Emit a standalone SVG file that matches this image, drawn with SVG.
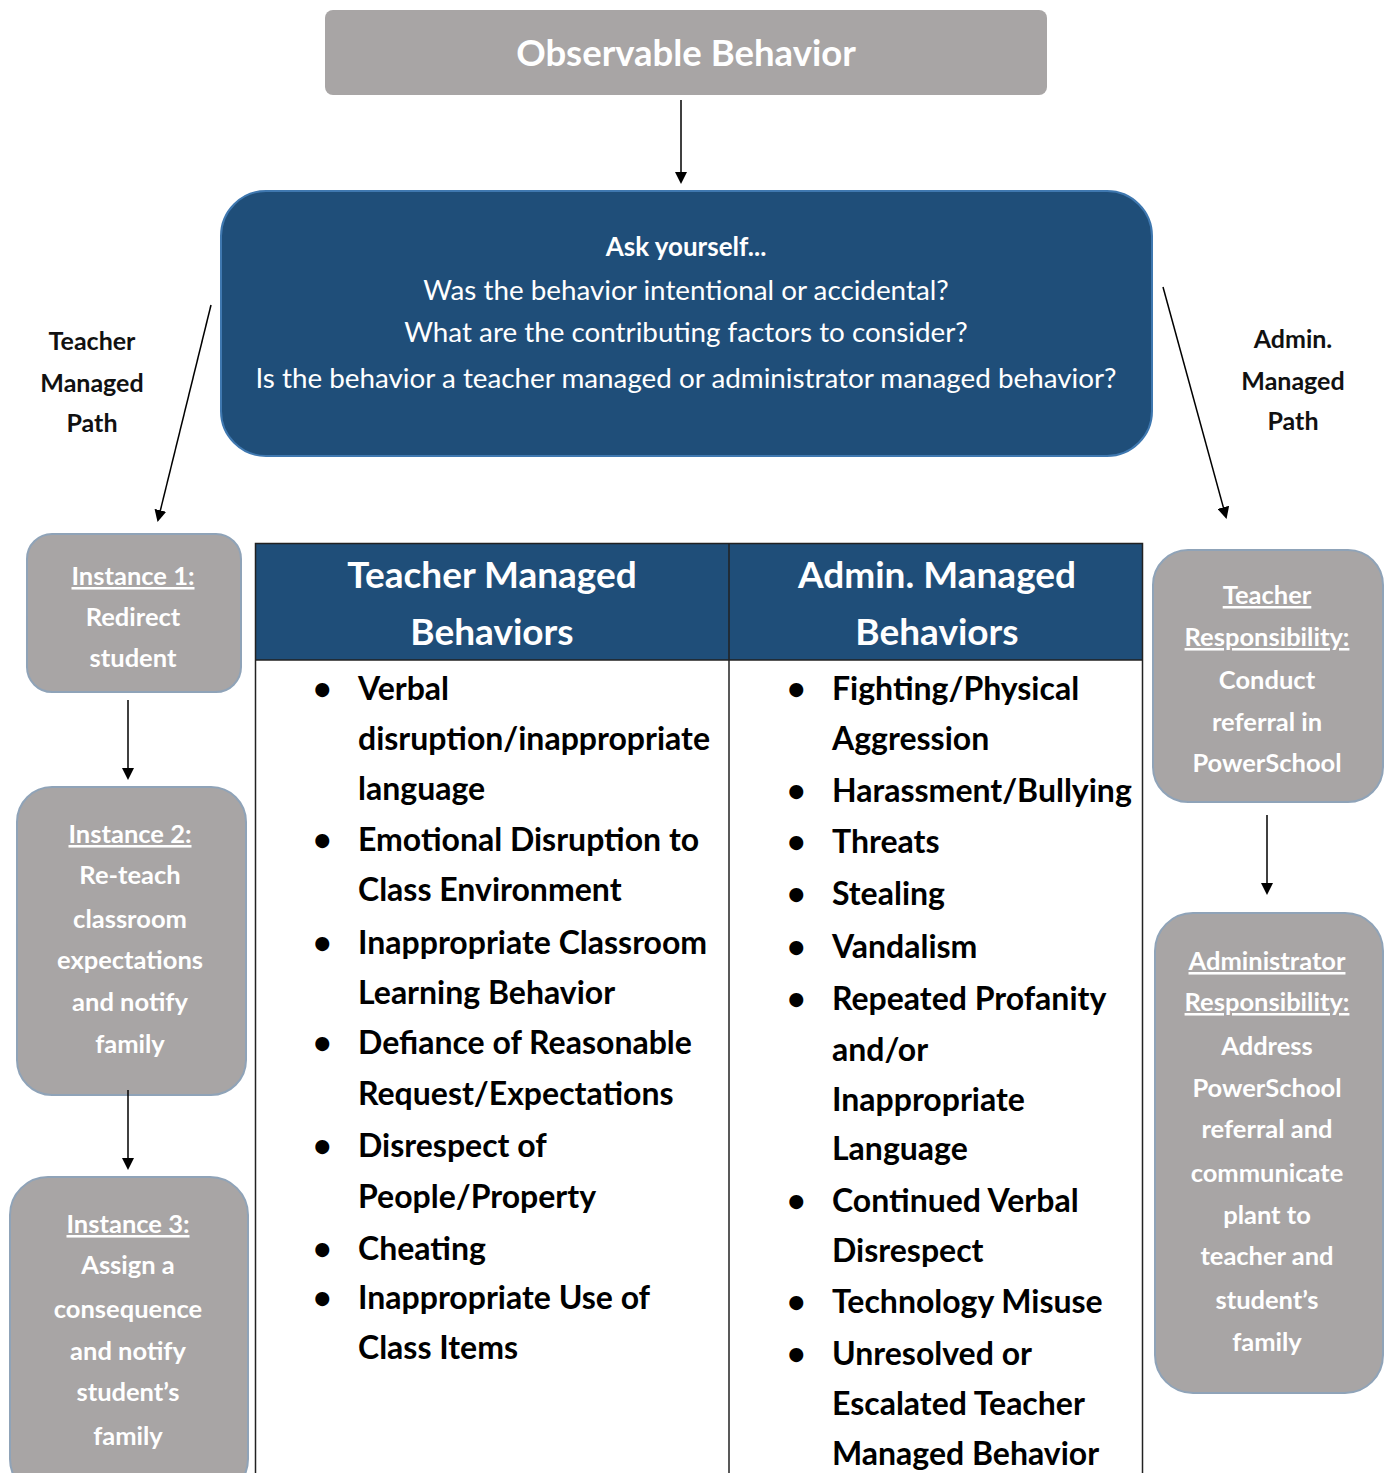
<svg xmlns="http://www.w3.org/2000/svg" width="1388" height="1473" viewBox="0 0 1388 1473">
<defs>
<marker id="ah" markerWidth="12" markerHeight="12" refX="10" refY="6" orient="auto" markerUnits="userSpaceOnUse">
<path d="M0,0 L12,6 L0,12 z" fill="#000"/>
</marker>
<style>
.gbox{fill:#a8a5a5;stroke:#8fa3b8;stroke-width:2}
.bbox{fill:#1f4e79;stroke:#3f78b0;stroke-width:2}
.wt{font-family:Lato,"Liberation Sans",sans-serif;font-weight:bold;fill:#fff;text-anchor:middle}
.gt{font-size:25.5px}
.qt{font-family:Lato,"Liberation Sans",sans-serif;fill:#fff;text-anchor:middle;font-size:27.8px}
.lbl{font-family:Lato,"Liberation Sans",sans-serif;font-weight:bold;fill:#111;text-anchor:middle;font-size:25px}
.bt{font-family:Lato,"Liberation Sans",sans-serif;font-weight:bold;fill:#000;font-size:32px}
.u{text-decoration:underline}
.conn{stroke:#000;stroke-width:1.5;fill:none}
</style>
</defs>
<rect width="1388" height="1473" fill="#fff"/>

<g id="observable">
<rect class="gbox" x="325" y="10" width="722" height="85" rx="8" style="stroke:none"/>
<text class="wt" x="686" y="66" font-size="36.5">Observable Behavior</text>
</g>

<g id="ask">
<rect class="bbox" x="221" y="191" width="931" height="265" rx="45"/>
<text class="wt" x="686" y="256" font-size="26">Ask yourself...</text>
<text class="qt" x="686" y="300">Was the behavior intentional or accidental?</text>
<text class="qt" x="686" y="342">What are the contributing factors to consider?</text>
<text class="qt" x="686" y="388">Is the behavior a teacher managed or administrator managed behavior?</text>
</g>

<g id="teacher-path-label">
<text class="lbl" x="92" y="350">Teacher</text>
<text class="lbl" x="92" y="392">Managed</text>
<text class="lbl" x="92" y="432">Path</text>
</g>
<g id="admin-path-label">
<text class="lbl" x="1293" y="348">Admin.</text>
<text class="lbl" x="1293" y="390">Managed</text>
<text class="lbl" x="1293" y="430">Path</text>
</g>

<g id="instance1">
<rect class="gbox" x="27" y="534" width="214" height="158" rx="25"/>
<text class="wt gt" x="133" y="585"><tspan class="u">Instance 1:</tspan></text>
<text class="wt gt" x="133" y="626">Redirect</text>
<text class="wt gt" x="133" y="667">student</text>
</g>

<g id="instance2">
<rect class="gbox" x="17" y="787" width="229" height="308" rx="35"/>
<text class="wt gt" x="130" y="843"><tspan class="u">Instance 2:</tspan></text>
<text class="wt gt" x="130" y="884">Re-teach</text>
<text class="wt gt" x="130" y="928">classroom</text>
<text class="wt gt" x="130" y="969">expectations</text>
<text class="wt gt" x="130" y="1011">and notify</text>
<text class="wt gt" x="130" y="1053">family</text>
</g>

<g id="instance3">
<rect class="gbox" x="10" y="1177" width="238" height="320" rx="38"/>
<text class="wt gt" x="128" y="1233"><tspan class="u">Instance 3:</tspan></text>
<text class="wt gt" x="128" y="1274">Assign a</text>
<text class="wt gt" x="128" y="1318">consequence</text>
<text class="wt gt" x="128" y="1360">and notify</text>
<text class="wt gt" x="128" y="1401">student’s</text>
<text class="wt gt" x="128" y="1445">family</text>
</g>

<g id="teacher-resp">
<rect class="gbox" x="1153" y="550" width="230" height="252" rx="35"/>
<text class="wt gt" x="1267" y="604"><tspan class="u">Teacher</tspan></text>
<text class="wt gt" x="1267" y="646"><tspan class="u">Responsibility:</tspan></text>
<text class="wt gt" x="1267" y="689">Conduct</text>
<text class="wt gt" x="1267" y="731">referral in</text>
<text class="wt gt" x="1267" y="772">PowerSchool</text>
</g>

<g id="admin-resp">
<rect class="gbox" x="1155" y="913" width="228" height="480" rx="38"/>
<text class="wt gt" x="1267" y="970"><tspan class="u">Administrator</tspan></text>
<text class="wt gt" x="1267" y="1011"><tspan class="u">Responsibility:</tspan></text>
<text class="wt gt" x="1267" y="1055">Address</text>
<text class="wt gt" x="1267" y="1097">PowerSchool</text>
<text class="wt gt" x="1267" y="1138">referral and</text>
<text class="wt gt" x="1267" y="1182">communicate</text>
<text class="wt gt" x="1267" y="1224">plant to</text>
<text class="wt gt" x="1267" y="1265">teacher and</text>
<text class="wt gt" x="1267" y="1309">student’s</text>
<text class="wt gt" x="1267" y="1351">family</text>
</g>

<g id="table">
<rect x="255" y="543" width="888" height="117" fill="#1f4e79"/>
<rect x="255.5" y="543.5" width="887" height="940" fill="none" stroke="#222" stroke-width="1.5"/>
<line x1="729" y1="543" x2="729" y2="1473" stroke="#222" stroke-width="1.5"/>
<line x1="255" y1="660" x2="1143" y2="660" stroke="#222" stroke-width="1.5"/>
<text class="wt" x="492" y="588" font-size="37">Teacher Managed</text>
<text class="wt" x="492" y="645" font-size="37">Behaviors</text>
<text class="wt" x="937" y="588" font-size="37">Admin. Managed</text>
<text class="wt" x="937" y="645" font-size="37">Behaviors</text>
<g class="bt">
<text x="313" y="700">•</text><text x="358" y="700">Verbal</text>
<text x="358" y="750">disruption/inappropriate</text>
<text x="358" y="800">language</text>
<text x="313" y="851">•</text><text x="358" y="851">Emotional Disruption to</text>
<text x="358" y="901">Class Environment</text>
<text x="313" y="954">•</text><text x="358" y="954">Inappropriate Classroom</text>
<text x="358" y="1004">Learning Behavior</text>
<text x="313" y="1054">•</text><text x="358" y="1054">Defiance of Reasonable</text>
<text x="358" y="1105">Request/Expectations</text>
<text x="313" y="1157">•</text><text x="358" y="1157">Disrespect of</text>
<text x="358" y="1208">People/Property</text>
<text x="313" y="1260">•</text><text x="358" y="1260">Cheating</text>
<text x="313" y="1309">•</text><text x="358" y="1309">Inappropriate Use of</text>
<text x="358" y="1359">Class Items</text>

<text x="787" y="700">•</text><text x="832" y="700">Fighting/Physical</text>
<text x="832" y="750">Aggression</text>
<text x="787" y="802">•</text><text x="832" y="802">Harassment/Bullying</text>
<text x="787" y="853">•</text><text x="832" y="853">Threats</text>
<text x="787" y="905">•</text><text x="832" y="905">Stealing</text>
<text x="787" y="958">•</text><text x="832" y="958">Vandalism</text>
<text x="787" y="1010">•</text><text x="832" y="1010">Repeated Profanity</text>
<text x="832" y="1061">and/or</text>
<text x="832" y="1111">Inappropriate</text>
<text x="832" y="1160">Language</text>
<text x="787" y="1212">•</text><text x="832" y="1212">Continued Verbal</text>
<text x="832" y="1262">Disrespect</text>
<text x="787" y="1313">•</text><text x="832" y="1313">Technology Misuse</text>
<text x="787" y="1365">•</text><text x="832" y="1365">Unresolved or</text>
<text x="832" y="1415">Escalated Teacher</text>
<text x="832" y="1465">Managed Behavior</text>
</g>
</g>

<g id="connectors">
<line class="conn" x1="681" y1="100" x2="681" y2="182" marker-end="url(#ah)"/>
<line class="conn" x1="211" y1="305" x2="158" y2="520" marker-end="url(#ah)"/>
<line class="conn" x1="1163" y1="287" x2="1226" y2="517" marker-end="url(#ah)"/>
<line class="conn" x1="128" y1="700" x2="128" y2="778" marker-end="url(#ah)"/>
<line class="conn" x1="128" y1="1090" x2="128" y2="1168" marker-end="url(#ah)"/>
<line class="conn" x1="1267" y1="815" x2="1267" y2="893" marker-end="url(#ah)"/>
</g>
</svg>
